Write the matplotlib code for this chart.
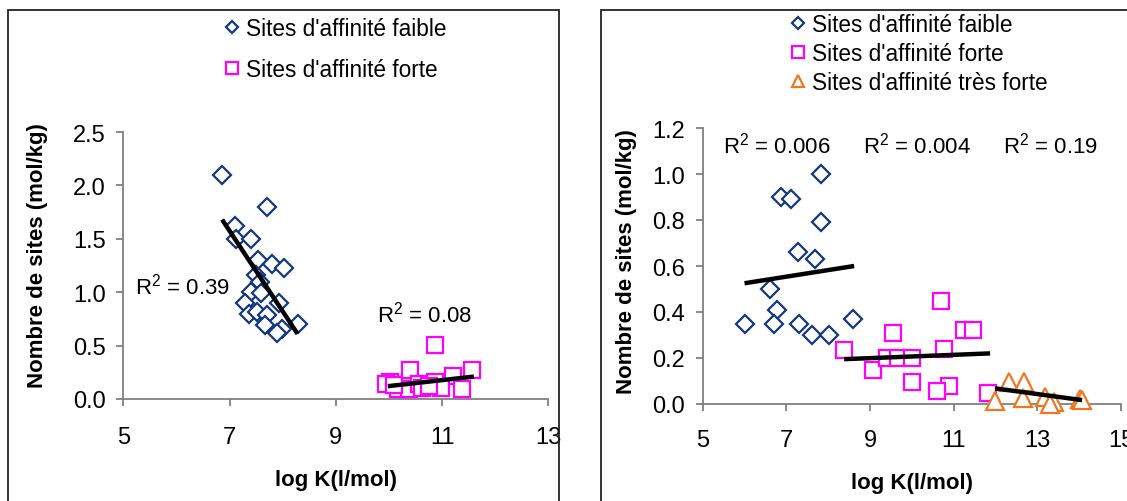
import matplotlib
matplotlib.use('Agg')
import matplotlib.pyplot as plt
from matplotlib.lines import Line2D
from matplotlib.patches import Rectangle

plt.rcParams['font.family'] = ['Liberation Sans', 'DejaVu Sans']
plt.rcParams['mathtext.fontset'] = 'custom'
plt.rcParams['mathtext.rm'] = 'Liberation Sans'
plt.rcParams['mathtext.it'] = 'Liberation Sans'
plt.rcParams['mathtext.bf'] = 'Liberation Sans:bold'

# ---------------- data ----------------
# Left panel
left_faible_x = [6.85, 7.70, 7.10, 7.12, 7.40, 7.54, 7.80, 8.02, 7.49, 7.58, 7.41,
                 7.59, 7.30, 7.93, 7.36, 7.51, 7.70, 7.67, 7.98, 7.90, 8.28]
left_faible_y = [2.10, 1.80, 1.62, 1.50, 1.50, 1.30, 1.26, 1.23, 1.16, 1.10, 1.00,
                 0.99, 0.90, 0.90, 0.80, 0.81, 0.79, 0.69, 0.66, 0.62, 0.70]
left_forte_x = [10.87, 11.57, 11.21, 10.40, 10.02, 9.95, 10.18, 10.37, 10.57, 10.63,
                10.87, 10.98, 11.37, 10.10, 10.75]
left_forte_y = [0.51, 0.27, 0.22, 0.27, 0.16, 0.14, 0.09, 0.09, 0.14, 0.10,
                0.16, 0.10, 0.09, 0.13, 0.12]
left_trend_faible_x = [6.86, 8.28]
left_trend_faible_y = [1.68, 0.61]
left_trend_forte_x = [9.98, 11.60]
left_trend_forte_y = [0.12, 0.21]
left_r2_labels = [r"R$^{2}$ = 0.39", r"R$^{2}$ = 0.08"]
left_r2_x = [5.22, 9.78]
left_r2_y = [1.06, 0.80]
left_xticks = [5, 7, 9, 11, 13]
left_yticks = [0.0, 0.5, 1.0, 1.5, 2.0, 2.5]

# Right panel
right_faible_x = [7.82, 6.86, 7.11, 7.82, 7.27, 7.69, 6.61, 6.78, 6.00, 6.71, 7.31, 7.61, 8.02, 8.60]
right_faible_y = [1.00, 0.90, 0.89, 0.79, 0.66, 0.63, 0.50, 0.41, 0.35, 0.35, 0.35, 0.30, 0.30, 0.37]
right_forte_x = [8.38, 9.08, 9.40, 9.56, 10.69, 11.25, 11.47, 9.68, 10.00, 10.77,
                 10.00, 10.90, 10.60, 11.83]
right_forte_y = [0.235, 0.15, 0.20, 0.31, 0.45, 0.32, 0.32, 0.20, 0.20, 0.24,
                 0.097, 0.08, 0.055, 0.048]
right_tresforte_x = [11.99, 12.33, 12.69, 12.66, 13.19, 13.39, 13.31, 14.03, 14.07]
right_tresforte_y = [0.014, 0.094, 0.094, 0.025, 0.029, 0.010, 0.000, 0.022, 0.017]
right_trend_faible_x = [6.00, 8.62]
right_trend_faible_y = [0.525, 0.60]
right_trend_forte_x = [8.38, 11.87]
right_trend_forte_y = [0.195, 0.22]
right_trend_tresforte_x = [11.99, 14.07]
right_trend_tresforte_y = [0.068, 0.017]
right_r2_labels = [r"R$^{2}$ = 0.006", r"R$^{2}$ = 0.004", r"R$^{2}$ = 0.19"]
right_r2_x = [5.49, 8.83, 12.18]
right_r2_y = [1.13, 1.13, 1.13]
right_xticks = [5, 7, 9, 11, 13, 15]
right_yticks = [0.0, 0.2, 0.4, 0.6, 0.8, 1.0, 1.2]

series_labels = ["Sites d'affinité faible", "Sites d'affinité forte", "Sites d'affinité très forte"]
xlabel = "log K(l/mol)"
ylabel = "Nombre de sites (mol/kg)"

# ---------------- style ----------------
BLUE = '#13387a'
PINK = '#ff00ff'
ORANGE = '#ee7722'
AXC = '#808080'
FS = 16
TFS = 17

W, H = 1127, 502
fig = plt.figure(figsize=(W / 100, H / 100), dpi=100)


def px_axes(l, r, t, b):
    return fig.add_axes([l / W, (H - b) / H, (r - l) / W, (b - t) / H])


def frame(l, r, t, b):
    fig.add_artist(Rectangle((l / W, (H - b) / H), (r - l) / W, (b - t) / H,
                             transform=fig.transFigure, fill=False, lw=1.3, ec='#222222'))


frame(8, 559, 11, 515)
frame(601, 1140, 11, 515)

mk = dict(linestyle='none', markerfacecolor='white', markeredgewidth=1.6, clip_on=False, zorder=3)
diamond = dict(marker='D', markersize=9.0, markeredgecolor=BLUE, **mk)
square = dict(marker='s', markersize=11.5, markeredgecolor=PINK, **mk)
triangle = dict(marker='^', markersize=12.5, markeredgecolor=ORANGE, **mk)
trend = dict(color='black', lw=3.2, solid_capstyle='butt', zorder=4, clip_on=False)


def style_axes(ax, xt, yt, fmt, xpad):
    for s in ('top', 'right'):
        ax.spines[s].set_visible(False)
    for s in ('left', 'bottom'):
        ax.spines[s].set_color(AXC)
        ax.spines[s].set_linewidth(1.3)
    ax.set_xticks(xt)
    ax.set_xticklabels([str(v) for v in xt])
    ax.set_yticks(yt)
    ax.set_yticklabels([fmt.format(v) for v in yt])
    ax.tick_params(direction='out', length=4.8, width=1.3, color=AXC, labelsize=TFS,
                   labelcolor='black')
    ax.tick_params(axis='x', pad=xpad)
    ax.tick_params(axis='y', pad=8)
    ax.set_facecolor('none')


# ---------------- left panel ----------------
axL = px_axes(123.3, 548.3, 133, 400)
axL.plot(left_faible_x, left_faible_y, **diamond)
axL.plot(left_forte_x, left_forte_y, **square)
axL.plot(left_trend_faible_x, left_trend_faible_y, **trend)
axL.plot(left_trend_forte_x, left_trend_forte_y, **trend)
for lab, x, y in zip(left_r2_labels, left_r2_x, left_r2_y):
    axL.text(x, y, lab, fontsize=FS, ha='left', va='center')
axL.set_xlim(5, 13)
axL.set_ylim(0, 2.5)
style_axes(axL, left_xticks, left_yticks, '{:.1f}', 15)
axL.set_xlabel(xlabel, fontsize=FS, fontweight='bold')
axL.xaxis.label.set_va('center')
axL.xaxis.set_label_coords(0.5, -0.30)
axL.set_ylabel(ylabel, fontsize=FS, fontweight='bold')
axL.yaxis.label.set_va('center')
axL.yaxis.set_label_coords(-0.203, 0.54)

hL = [Line2D([], [], **diamond), Line2D([], [], **square)]
legL = axL.legend(hL, series_labels[:2], loc='upper left', bbox_to_anchor=(224 / W, 1 - 18 / H),
                  bbox_transform=fig.transFigure, frameon=False, fontsize=16.3,
                  handlelength=0.7, handletextpad=0.25, labelspacing=0.8, markerscale=0.72,
                  borderpad=0, borderaxespad=0)

# ---------------- right panel ----------------
axR = px_axes(702.7, 1121, 129, 405)
axR.plot(right_faible_x, right_faible_y, **diamond)
axR.plot(right_forte_x, right_forte_y, **square)
axR.plot(right_tresforte_x, right_tresforte_y, **triangle)
axR.plot(right_trend_faible_x, right_trend_faible_y, **trend)
axR.plot(right_trend_forte_x, right_trend_forte_y, **trend)
axR.plot(right_trend_tresforte_x, right_trend_tresforte_y, **trend)
for lab, x, y in zip(right_r2_labels, right_r2_x, right_r2_y):
    axR.text(x, y, lab, fontsize=FS, ha='left', va='center')
axR.set_xlim(5, 15)
axR.set_ylim(0, 1.2)
style_axes(axR, right_xticks, right_yticks, '{:.1f}', 13)
axR.set_xlabel(xlabel, fontsize=FS, fontweight='bold')
axR.xaxis.label.set_va('center')
axR.xaxis.set_label_coords(0.5, -0.283)
axR.set_ylabel(ylabel, fontsize=FS, fontweight='bold')
axR.yaxis.label.set_va('center')
axR.yaxis.set_label_coords(-0.181, 0.518)

hR = [Line2D([], [], **diamond), Line2D([], [], **square), Line2D([], [], **triangle)]
legR = axR.legend(hR, series_labels, loc='upper left', bbox_to_anchor=(790 / W, 1 - 14 / H),
                  bbox_transform=fig.transFigure, frameon=False, fontsize=16.3,
                  handlelength=0.7, handletextpad=0.25, labelspacing=0.26, markerscale=0.72,
                  borderpad=0, borderaxespad=0)

fig.savefig('out.png', dpi=100)
